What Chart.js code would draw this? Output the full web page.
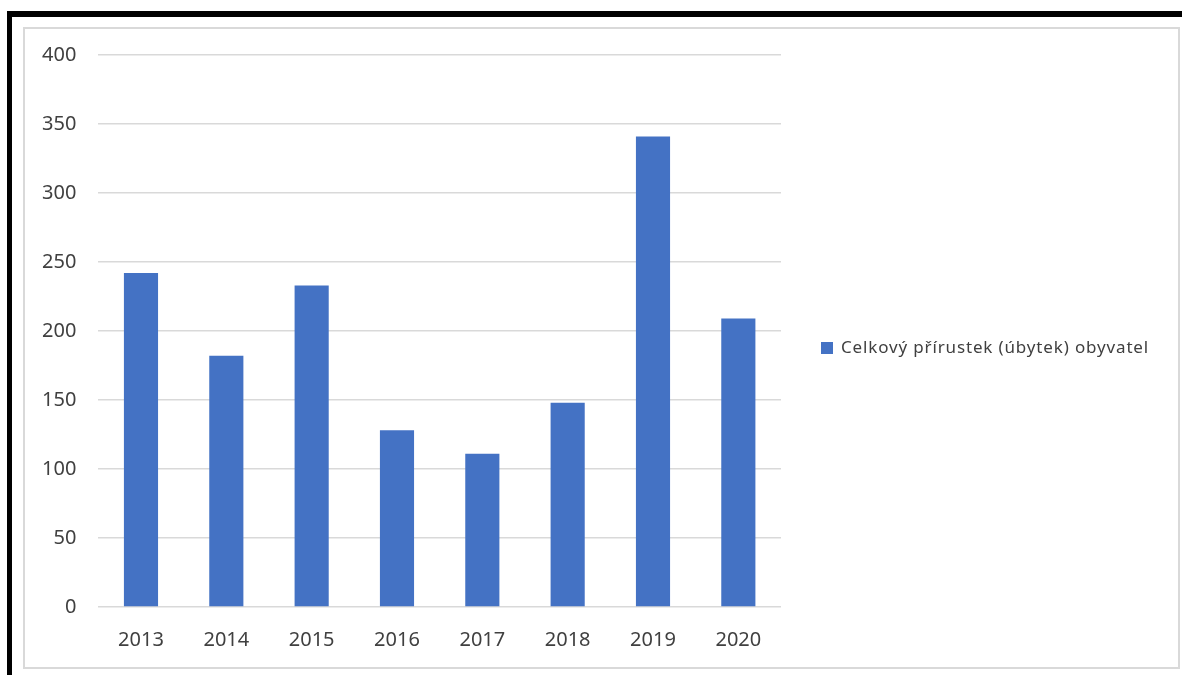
<!DOCTYPE html>
<html>
<head>
<meta charset="utf-8">
<script src="https://cdn.jsdelivr.net/npm/chart.js@4"></script>
<style>
    html, body { margin: 0; padding: 0; background: #fff; }
    body { width: 1182px; height: 675px; position: relative; overflow: hidden; }
    .frame { position: absolute; left: 7px; top: 11px; right: 0; bottom: -10px;
             border-top: 6px solid #000; border-left: 5px solid #000; }
    .inner { position: absolute; left: 23px; top: 27px; width: 1153px; height: 638px;
             border: 2px solid #d9d9d9; }
    #chartWrap { position: absolute; left: 0; top: 0; width: 1182px; height: 675px; }
</style>
</head>
<body>
<div class="frame"></div>
<div class="inner"></div>
<div id="chartWrap"><canvas id="barChart"></canvas></div>
<script>
document.addEventListener("DOMContentLoaded", function () {
    const years = ["2013", "2014", "2015", "2016", "2017", "2018", "2019", "2020"];
    const growth = [242, 182, 233, 128, 111, 148, 341, 209];
    const seriesName = "Celkový přírustek (úbytek) obyvatel";

    // legend drawn on the right, Excel style (built-in one gets squeezed)
    const sideLegend = {
        id: "sideLegend",
        afterDraw(chart) {
            const c = chart.ctx;
            const ds = chart.data.datasets[0];
            const x = chart.chartArea.right + 40;
            const y = 348;
            c.save();
            c.fillStyle = ds.backgroundColor;
            c.fillRect(x, y - 6, 12, 12);
            c.fillStyle = "#404040";
            c.font = "17px 'Noto Sans'";
            c.letterSpacing = "0.85px";
            c.textBaseline = "middle";
            c.fillText(ds.label, x + 20, y);
            c.restore();
        }
    };

    const ctx = document.getElementById("barChart").getContext("2d");

    new Chart(ctx, {
        type: "bar",
        data: {
            labels: years,
            datasets: [{
                label: seriesName,
                data: growth,
                backgroundColor: "#4472c4",
                categoryPercentage: 1,
                barPercentage: 0.4
            }]
        },
        options: {
            responsive: true,
            maintainAspectRatio: false,
            animation: false,
            layout: {
                padding: { left: 20, top: 55, right: 401, bottom: 10 }
            },
            plugins: {
                legend: { display: false },
                tooltip: { enabled: false }
            },
            scales: {
                x: {
                    grid: { display: false },
                    border: { display: false },
                    ticks: {
                        padding: 13,
                        color: "#404040",
                        font: { family: "Noto Sans", size: 20 }
                    }
                },
                y: {
                    min: 0,
                    max: 400,
                    ticks: {
                        stepSize: 50,
                        padding: 22,
                        color: "#404040",
                        font: { family: "Noto Sans", size: 20 }
                    },
                    grid: { color: "#d9d9d9", lineWidth: 1.5, drawTicks: false },
                    border: { display: false }
                }
            }
        },
        plugins: [sideLegend]
    });
});
</script>
</body>
</html>
